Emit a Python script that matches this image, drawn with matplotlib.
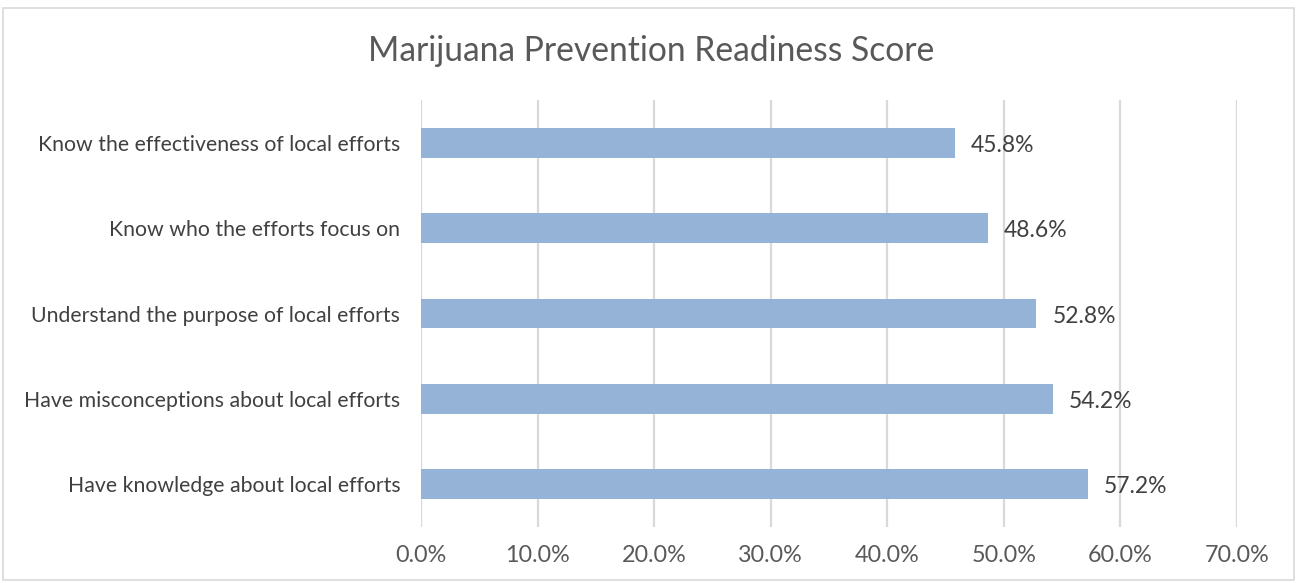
import matplotlib
matplotlib.use("Agg")
import matplotlib.pyplot as plt
from matplotlib.patches import Rectangle
from matplotlib.ticker import FuncFormatter

categories = [
    "Know the effectiveness of local efforts",
    "Know who the efforts focus on",
    "Understand the purpose of local efforts",
    "Have misconceptions about local efforts",
    "Have knowledge about local efforts",
]
scores = [45.8, 48.6, 52.8, 54.2, 57.2]
x_ticks = [0, 10, 20, 30, 40, 50, 60, 70]

plt.rcParams['font.family'] = ['Lato', 'DejaVu Sans']

fig = plt.figure(figsize=(12.97, 5.83), dpi=100)
ax = fig.add_axes([421 / 1297, 1 - 527 / 583, (1237 - 421) / 1297, 427 / 583])

# figure border
fig.patches.append(Rectangle((3 / 1297, 3 / 583), 1 - 6 / 1297, 1 - 11 / 583,
                             transform=fig.transFigure, fill=False,
                             edgecolor='#d9d9d9', linewidth=1.2))

pos = list(range(len(categories)))[::-1]
ax.barh(pos, scores, height=0.35, color='#95b3d7', zorder=3)

for p, v in zip(pos, scores):
    ax.text(v + 1.4, p - 0.03, f"{v:.1f}%", va='center', ha='left',
            fontsize=16.5, color='#404040')

ax.set_xlim(0, 70)
ax.set_ylim(-0.5, len(categories) - 0.5)
ax.set_xticks(x_ticks)
ax.xaxis.set_major_formatter(FuncFormatter(lambda x, _: f"{x:.1f}%"))
ax.set_yticks(pos)
ax.set_yticklabels(categories)
ax.tick_params(axis='y', length=0, pad=15, labelsize=15.3, labelcolor='#404040')
ax.tick_params(axis='x', length=0, pad=13, labelsize=16.8, labelcolor='#595959')
ax.grid(axis='x', color='#d9d9d9', linewidth=1.6, zorder=0)
for s in ax.spines.values():
    s.set_visible(False)

fig.text(651 / 1297, 1 - 51 / 583, "Marijuana Prevention Readiness Score",
         ha='center', va='center', fontsize=24.2, color='#595959')

fig.savefig("out.png", dpi=100)
